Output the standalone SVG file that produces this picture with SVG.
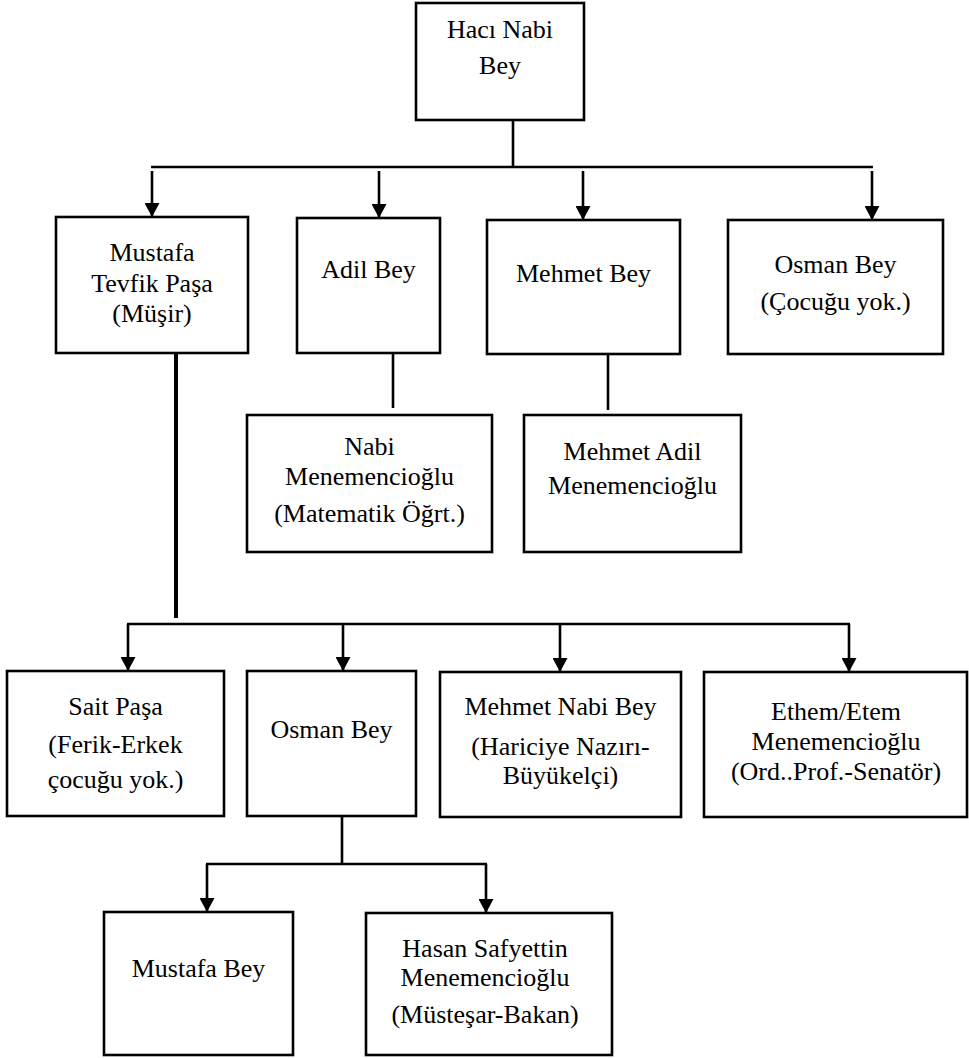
<svg xmlns="http://www.w3.org/2000/svg" width="969" height="1058" viewBox="0 0 969 1058">
<style>
.box{fill:#fff;stroke:#000;stroke-width:2.6}
.t{font-family:"Liberation Serif","Times New Roman",serif;font-size:26px;fill:#000;text-anchor:middle}
.c{stroke:#000;stroke-width:2.6;fill:none}
.a{stroke:#000;stroke-width:2.6;fill:none;marker-end:url(#arr)}
</style>
<defs>
<marker id="arr" viewBox="0 0 14 15" markerWidth="14" markerHeight="15" refX="14" refY="7.5" orient="auto" markerUnits="userSpaceOnUse">
<path d="M0,0 L14,7.5 L0,15 z" fill="#000"/>
</marker>
</defs>
<rect width="969" height="1058" fill="#fff"/>
<g id="connectors">
<line class="c" x1="513" y1="120" x2="513" y2="167"/>
<line class="c" x1="151" y1="167" x2="873" y2="167" stroke-width="3"/>
<line class="a" x1="152" y1="171" x2="152" y2="217"/>
<line class="a" x1="379" y1="171" x2="379" y2="218"/>
<line class="a" x1="583" y1="171" x2="583" y2="220"/>
<line class="a" x1="872" y1="171" x2="872" y2="220"/>
<line class="c" x1="393" y1="353" x2="393" y2="408"/>
<line class="c" x1="608" y1="354" x2="608" y2="410"/>
<line class="c" x1="176" y1="353" x2="176" y2="618" style="stroke-width:4"/>
<line class="c" x1="127" y1="624" x2="850" y2="624"/>
<line class="a" x1="128" y1="624" x2="128" y2="671"/>
<line class="a" x1="343" y1="624" x2="343" y2="671"/>
<line class="a" x1="560" y1="624" x2="560" y2="672"/>
<line class="a" x1="849" y1="624" x2="849" y2="672"/>
<line class="c" x1="342" y1="816" x2="342" y2="864"/>
<line class="c" x1="206" y1="864" x2="487" y2="864"/>
<line class="a" x1="207" y1="864" x2="207" y2="912"/>
<line class="a" x1="486" y1="864" x2="486" y2="913"/>
</g>
<g id="n-haci-nabi">
<rect class="box" x="416" y="3" width="168" height="117"/>
<text class="t" x="500" y="38">Hacı Nabi</text>
<text class="t" x="500" y="74">Bey</text>
</g>
<g id="n-mustafa-tevfik">
<rect class="box" x="56" y="217" width="192" height="136"/>
<text class="t" x="152" y="261">Mustafa</text>
<text class="t" x="152" y="292">Tevfik Paşa</text>
<text class="t" x="152" y="322">(Müşir)</text>
</g>
<g id="n-adil">
<rect class="box" x="297" y="218" width="143" height="135"/>
<text class="t" x="368.5" y="278">Adil Bey</text>
</g>
<g id="n-mehmet">
<rect class="box" x="487" y="220" width="193" height="134"/>
<text class="t" x="583.5" y="282">Mehmet Bey</text>
</g>
<g id="n-osman1">
<rect class="box" x="728" y="220" width="215" height="134"/>
<text class="t" x="835.5" y="273">Osman Bey</text>
<text class="t" x="835.5" y="310">(Çocuğu yok.)</text>
</g>
<g id="n-nabi-men">
<rect class="box" x="247" y="415" width="245" height="137"/>
<text class="t" x="369.5" y="455">Nabi</text>
<text class="t" x="369.5" y="485">Menemencioğlu</text>
<text class="t" x="369.5" y="522">(Matematik Öğrt.)</text>
</g>
<g id="n-mehmet-adil">
<rect class="box" x="524" y="415" width="217" height="137"/>
<text class="t" x="632.5" y="460">Mehmet Adil</text>
<text class="t" x="632.5" y="494">Menemencioğlu</text>
</g>
<g id="n-sait">
<rect class="box" x="7" y="671" width="217" height="145"/>
<text class="t" x="115.5" y="715">Sait Paşa</text>
<text class="t" x="115.5" y="753">(Ferik-Erkek</text>
<text class="t" x="115.5" y="788">çocuğu yok.)</text>
</g>
<g id="n-osman2">
<rect class="box" x="247" y="671" width="169" height="145"/>
<text class="t" x="331.5" y="738">Osman Bey</text>
</g>
<g id="n-mehmet-nabi">
<rect class="box" x="440" y="672" width="241" height="145"/>
<text class="t" x="560.5" y="715">Mehmet Nabi Bey</text>
<text class="t" x="560.5" y="755">(Hariciye Nazırı-</text>
<text class="t" x="560.5" y="784">Büyükelçi)</text>
</g>
<g id="n-ethem">
<rect class="box" x="704" y="672" width="263" height="145"/>
<text class="t" x="836" y="720">Ethem/Etem</text>
<text class="t" x="836" y="750">Menemencioğlu</text>
<text class="t" x="836" y="780">(Ord..Prof.-Senatör)</text>
</g>
<g id="n-mustafa-bey">
<rect class="box" x="104" y="912" width="189" height="143"/>
<text class="t" x="198.5" y="977">Mustafa Bey</text>
</g>
<g id="n-hasan">
<rect class="box" x="366" y="913" width="246" height="142"/>
<text class="t" x="485" y="957">Hasan Safyettin</text>
<text class="t" x="485" y="986">Menemencioğlu</text>
<text class="t" x="485" y="1023">(Müsteşar-Bakan)</text>
</g>
</svg>
